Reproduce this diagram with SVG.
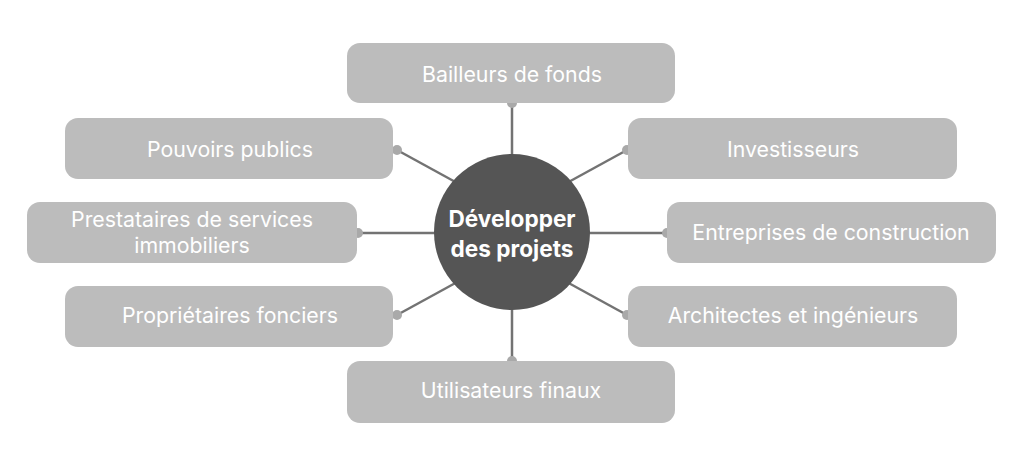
<svg xmlns="http://www.w3.org/2000/svg" width="1024" height="466" viewBox="0 0 1024 466">
<style>
.box{fill:#bcbcbc}
.lbl{font-family:Inter,"Noto Sans","Liberation Sans",sans-serif;font-size:21.3px;fill:#ffffff;text-anchor:middle}
.ctr{font-family:Inter,"Noto Sans","Liberation Sans",sans-serif;font-size:22.6px;font-weight:700;fill:#ffffff;text-anchor:middle}
.ln{stroke:#737373;stroke-width:2.5;fill:none}
.dot{fill:#a9a9a9}
</style>
<rect width="1024" height="466" fill="#ffffff"/>
<g id="connectors">
<line class="ln" x1="512" y1="103" x2="512" y2="170"/>
<line class="ln" x1="512" y1="361" x2="512" y2="295"/>
<line class="ln" x1="397" y1="150" x2="470" y2="190"/>
<line class="ln" x1="627" y1="150" x2="554" y2="190"/>
<line class="ln" x1="358" y1="233" x2="450" y2="233"/>
<line class="ln" x1="667" y1="233" x2="574" y2="233"/>
<line class="ln" x1="397" y1="315" x2="470" y2="275"/>
<line class="ln" x1="627" y1="315" x2="554" y2="275"/>
<circle class="dot" cx="512" cy="103" r="5"/>
<circle class="dot" cx="512" cy="361" r="5"/>
<circle class="dot" cx="397" cy="150" r="5"/>
<circle class="dot" cx="627" cy="150" r="5"/>
<circle class="dot" cx="358" cy="233" r="5"/>
<circle class="dot" cx="667" cy="233" r="5"/>
<circle class="dot" cx="397" cy="315" r="5"/>
<circle class="dot" cx="627" cy="315" r="5"/>
</g>
<g id="center">
<circle cx="512" cy="232" r="78" fill="#555555"/>
<text class="ctr" x="512" y="227">Développer</text>
<text class="ctr" x="512" y="257">des projets</text>
</g>
<g id="bailleurs">
<rect class="box" x="347" y="43" width="328" height="60" rx="13"/>
<text class="lbl" x="512" y="82">Bailleurs de fonds</text>
</g>
<g id="pouvoirs">
<rect class="box" x="65" y="118" width="328" height="61" rx="13"/>
<text class="lbl" x="230" y="157">Pouvoirs publics</text>
</g>
<g id="prestataires">
<rect class="box" x="27" y="202" width="330" height="61" rx="13"/>
<text class="lbl" x="192" y="227">Prestataires de services</text>
<text class="lbl" x="192" y="253">immobiliers</text>
</g>
<g id="proprietaires">
<rect class="box" x="65" y="286" width="328" height="61" rx="13"/>
<text class="lbl" x="230" y="323">Propriétaires fonciers</text>
</g>
<g id="investisseurs">
<rect class="box" x="628" y="118" width="329" height="61" rx="13"/>
<text class="lbl" x="793" y="157">Investisseurs</text>
</g>
<g id="entreprises">
<rect class="box" x="667" y="202" width="329" height="61" rx="13"/>
<text class="lbl" x="831" y="240">Entreprises de construction</text>
</g>
<g id="architectes">
<rect class="box" x="628" y="286" width="329" height="61" rx="13"/>
<text class="lbl" x="793" y="323">Architectes et ingénieurs</text>
</g>
<g id="utilisateurs">
<rect class="box" x="347" y="361" width="328" height="62" rx="13"/>
<text class="lbl" x="511" y="398">Utilisateurs finaux</text>
</g>
</svg>
